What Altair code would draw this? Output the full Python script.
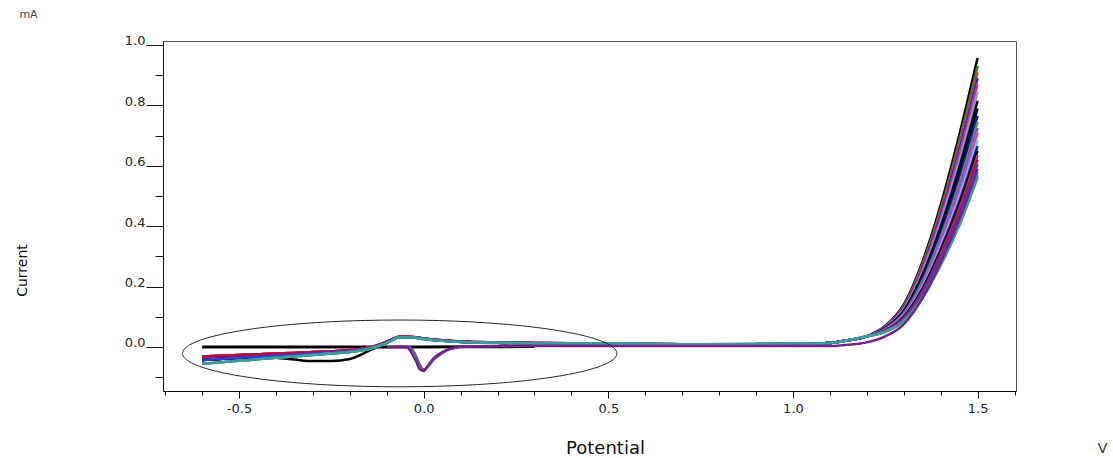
import altair as alt
import numpy as np
import pandas as pd

# ---- potentials (V) ----
E_LOW = [-0.6, -0.5, -0.4, -0.35, -0.3, -0.25, -0.2, -0.15, -0.1, -0.065, -0.03, 0.0,
         0.05, 0.1, 0.2, 0.3, 0.5, 0.7, 0.9, 1.0]
E_HEAD = [1.1, 1.15, 1.2]
E_RISE = [1.25, 1.3, 1.35, 1.4, 1.45, 1.5]

# ---- currents (mA) in the low-potential region, four families of scans ----
LOW_A = [-0.032, -0.027, -0.022, -0.020, -0.017, -0.014, -0.011, -0.003, 0.017, 0.034,
         0.033, 0.028, 0.022, 0.018, 0.015, 0.013, 0.011, 0.009, 0.009, 0.010]
LOW_B = [-0.043, -0.036, -0.029, -0.026, -0.022, -0.018, -0.014, -0.005, 0.015, 0.033,
         0.032, 0.027, 0.021, 0.017, 0.014, 0.012, 0.010, 0.008, 0.009, 0.010]
LOW_C = [-0.056, -0.046, -0.036, -0.031, -0.027, -0.022, -0.017, -0.007, 0.013, 0.032,
         0.031, 0.026, 0.020, 0.016, 0.014, 0.012, 0.011, 0.009, 0.010, 0.011]
LOW_K = [-0.032, -0.032, -0.036, -0.042, -0.047, -0.047, -0.040, -0.014, 0.014, 0.033,
         0.032, 0.027, 0.021, 0.017, 0.014, 0.012, 0.010, 0.008, 0.009, 0.010]
LOW = {"A": LOW_A, "B": LOW_B, "C": LOW_C, "K": LOW_K}
HEAD = [0.013, 0.022, 0.035]

# ---- scans: id, colour, low-region family, currents on E_RISE ----
SCAN_IDS = ["s01", "s02", "s03", "s04", "s05", "s06", "s07", "s08", "s09", "s10", "s11",
            "s12", "s13", "s14", "s15", "s16", "s17", "s18", "s20", "s21", "s22"]
SCAN_COLORS = ["#000000", "#2f7f2f", "#d0402a", "#2b2bd0", "#c030c0", "#9a9a9a", "#101010",
               "#00007a", "#1c1c6a", "#4e9e4e", "#8a4fc8", "#cc44cc", "#66c6f0", "#16168c",
               "#000000", "#d42a2a", "#b0103e", "#3c3cd8", "#3a8ea2", "#2b8a8a", "#3d9c9c"]
SCAN_FAMILY = ["K", "B", "A", "B", "A", "B", "B", "B", "B", "B", "A",
               "A", "C", "B", "B", "A", "A", "B", "C", "C", "C"]
SCAN_RISE = [
    [0.070, 0.140, 0.280, 0.470, 0.700, 0.957],
    [0.069, 0.136, 0.272, 0.456, 0.680, 0.930],
    [0.068, 0.133, 0.266, 0.446, 0.665, 0.910],
    [0.067, 0.131, 0.260, 0.436, 0.649, 0.890],
    [0.066, 0.128, 0.254, 0.426, 0.634, 0.870],
    [0.064, 0.124, 0.246, 0.414, 0.615, 0.845],
    [0.063, 0.120, 0.237, 0.398, 0.593, 0.815],
    [0.062, 0.117, 0.229, 0.386, 0.574, 0.790],
    [0.060, 0.113, 0.222, 0.373, 0.555, 0.765],
    [0.059, 0.111, 0.216, 0.363, 0.540, 0.745],
    [0.058, 0.108, 0.210, 0.353, 0.525, 0.725],
    [0.058, 0.106, 0.205, 0.346, 0.513, 0.710],
    [0.056, 0.102, 0.198, 0.333, 0.495, 0.685],
    [0.055, 0.100, 0.192, 0.323, 0.479, 0.665],
    [0.055, 0.098, 0.187, 0.315, 0.468, 0.650],
    [0.054, 0.095, 0.183, 0.308, 0.457, 0.635],
    [0.053, 0.093, 0.178, 0.300, 0.445, 0.620],
    [0.052, 0.091, 0.174, 0.293, 0.434, 0.605],
    [0.051, 0.087, 0.165, 0.279, 0.413, 0.578],
    [0.050, 0.086, 0.162, 0.274, 0.406, 0.568],
    [0.050, 0.085, 0.160, 0.270, 0.400, 0.560],
]

# reduction-peak traces near 0 V
E_DIP = [-0.1, -0.046, -0.035, -0.02, -0.01, 0.0, 0.01, 0.025, 0.04, 0.063, 0.106, 0.2,
         0.5, 0.9, 1.1, 1.15, 1.2, 1.25, 1.3, 1.35, 1.4, 1.45, 1.5]
I_DIP = [0.0, 0.0, -0.015, -0.05, -0.075, -0.08, -0.065, -0.04, -0.025, -0.01, 0.001, 0.003,
         0.003, 0.003, 0.003, 0.007, 0.015, 0.035, 0.075, 0.16, 0.28, 0.42, 0.59]
E_DIP2 = [-0.08, -0.04, -0.025, -0.012, -0.002, 0.01, 0.025, 0.045, 0.07, 0.12, 0.3]
I_DIP2 = [0.002, 0.0, -0.02, -0.055, -0.075, -0.068, -0.045, -0.025, -0.008, 0.002, 0.003]

# flat baseline trace
E_FLAT = [-0.6, -0.4, -0.2, 0.0, 0.3]
I_FLAT = [0.0, 0.0, 0.0, 0.0, 0.001]

# highlighted region (ellipse centre and half-axes, in V and mA)
ELL_CENTER = (-0.065, -0.0215)
ELL_RADII = (0.588, 0.1105)

X_DOMAIN = [-0.706, 1.604]
Y_DOMAIN = [-0.146, 1.013]

# ---- build long table ----
rows = []
for E, I in zip(E_FLAT, I_FLAT):
    rows.append({"scan": "flat", "E": E, "I": I})
for sid, fam, rise in zip(SCAN_IDS, SCAN_FAMILY, SCAN_RISE):
    for E, I in zip(E_LOW + E_HEAD + E_RISE, LOW[fam] + HEAD + rise):
        rows.append({"scan": sid, "E": E, "I": I})
for E, I in zip(E_DIP2, I_DIP2):
    rows.append({"scan": "dip2", "E": E, "I": I})
for E, I in zip(E_DIP, I_DIP):
    rows.append({"scan": "dip", "E": E, "I": I})
df = pd.DataFrame(rows)

color_domain = ["flat"] + SCAN_IDS + ["dip2", "dip"]
color_range = ["#000000"] + SCAN_COLORS + ["#5a5a9a", "#7a1f86"]

t = np.linspace(0, 2 * np.pi, 241)
ell = pd.DataFrame({
    "E": ELL_CENTER[0] + ELL_RADII[0] * np.cos(t),
    "I": ELL_CENTER[1] + ELL_RADII[1] * np.sin(t),
    "k": np.arange(len(t)),
})

xs = alt.Scale(domain=X_DOMAIN, nice=False, zero=False)
ys = alt.Scale(domain=Y_DOMAIN, nice=False, zero=False)

FONT = "DejaVu Sans"
# plain hyphen for negative tick labels
HYPHEN_LABEL = "replace(format(datum.value, '.1f'), '\u2212', '-')"

x_major = alt.Axis(values=[-0.5, 0.0, 0.5, 1.0, 1.5], labelExpr=HYPHEN_LABEL,
                   orient="bottom", tickSize=7, labelPadding=4, labelFontSize=13,
                   labelColor="#222", labelFont=FONT, domainColor="#111", tickColor="#111",
                   grid=False, title="Potential", titleFont=FONT, titleFontSize=18,
                   titleFontWeight="normal", titleColor="#111", titleX=442, titleY=62,
                   titleAlign="center", titleBaseline="alphabetic")
y_major = alt.Axis(values=[0.0, 0.2, 0.4, 0.6, 0.8, 1.0], format=".1f", orient="left",
                   tickSize=17, labelPadding=1, labelBaseline="alphabetic",
                   labelFontSize=13, labelColor="#222", labelFont=FONT,
                   domainColor="#111", tickColor="#111", grid=False,
                   title="Current", titleFont=FONT, titleFontSize=14,
                   titleFontWeight="normal", titleColor="#111", titleX=-137, titleY=229,
                   titleAngle=270, titleAlign="center", titleBaseline="alphabetic")

x_minor = alt.Axis(values=[round(-0.7 + 0.1 * i, 1) for i in range(24)], orient="bottom",
                   tickSize=4, labels=False, domain=False, tickColor="#111", grid=False,
                   title="V", titleFont=FONT, titleFontSize=14, titleFontWeight="normal",
                   titleColor="#333", titleX=939, titleY=61, titleAlign="center",
                   titleBaseline="alphabetic")
y_minor = alt.Axis(values=[-0.1, 0.1, 0.3, 0.5, 0.7, 0.9], orient="left",
                   tickSize=8, labels=False, domain=False, tickColor="#111", grid=False,
                   title="mA", titleFont=FONT, titleFontSize=11, titleFontWeight="normal",
                   titleColor="#444", titleX=-135, titleY=-24, titleAngle=0,
                   titleAlign="center", titleBaseline="alphabetic")

lines = alt.Chart(df).mark_line(interpolate="monotone").encode(
    x=alt.X("E:Q", scale=xs, axis=x_major),
    y=alt.Y("I:Q", scale=ys, axis=y_major),
    color=alt.Color("scan:N", scale=alt.Scale(domain=color_domain, range=color_range),
                    legend=None, sort=color_domain),
    strokeWidth=alt.condition(alt.datum.scan == "flat", alt.value(3), alt.value(2.5)),
    detail="scan:N",
)

ellipse = alt.Chart(ell).mark_line(strokeWidth=1, color="#222").encode(
    x=alt.X("E:Q", scale=xs, axis=None),
    y=alt.Y("I:Q", scale=ys, axis=None),
    order="k:Q",
)

minor = alt.Chart(pd.DataFrame({"E": E_FLAT, "I": I_FLAT})).mark_point(opacity=0).encode(
    x=alt.X("E:Q", scale=xs, axis=x_minor),
    y=alt.Y("I:Q", scale=ys, axis=y_minor),
)

chart = alt.layer(lines, ellipse, minor).resolve_axis(
    x="independent", y="independent"
).properties(
    width=853, height=350,
    padding={"left": 163, "top": 41, "right": 97, "bottom": 67},
    autosize=alt.AutoSizeParams(type="none"),
    background="white",
).configure_view(stroke="#555", strokeWidth=1)

chart.save("out.html", embed_options={"renderer": "svg", "actions": False})
